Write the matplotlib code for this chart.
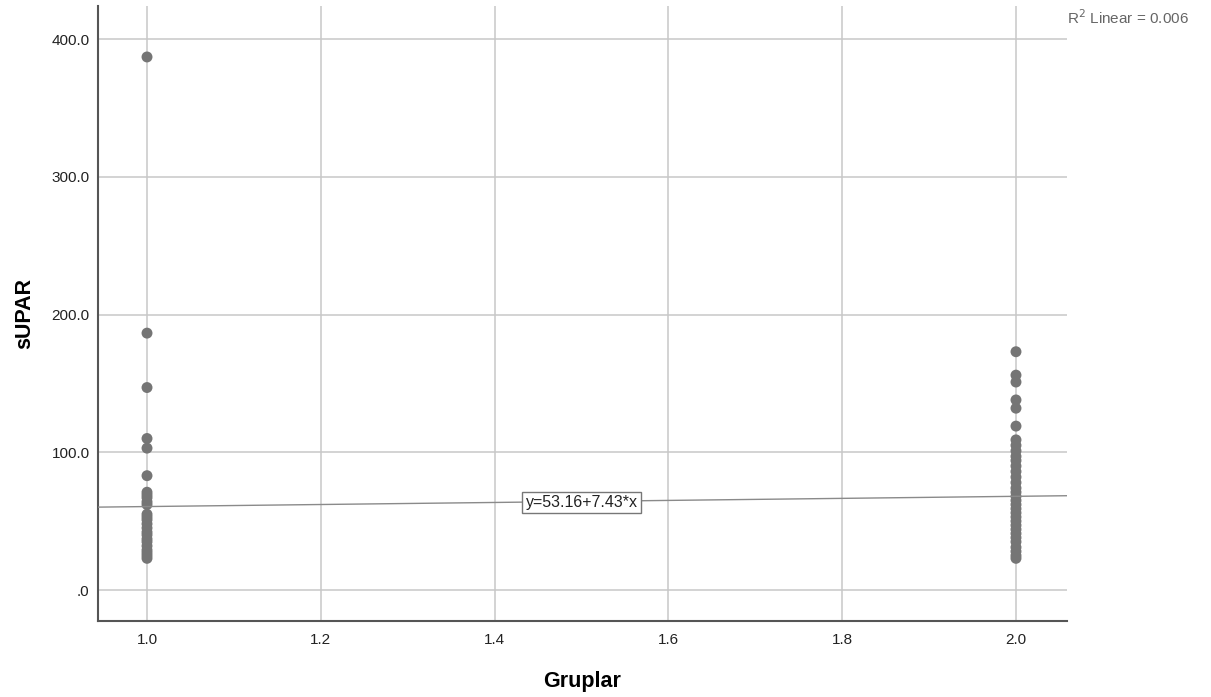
import matplotlib
matplotlib.use("Agg")
import matplotlib.pyplot as plt
import numpy as np

plt.rcParams['font.family'] = ['Liberation Sans', 'DejaVu Sans']

# sUPAR measurements per group
group1_x = 1.0
group1_supar = [387, 186.5, 147, 110, 103, 83, 71, 69, 67, 64, 62, 55, 53, 51,
                48, 45, 42, 40, 37, 35, 32, 29, 27, 25, 23]
group2_x = 2.0
group2_supar = [173, 156, 151, 138, 132, 119, 109, 105, 101, 97, 94, 90, 86, 82,
                78, 74, 71, 68, 65, 62, 59, 56, 53, 50, 47, 44, 41, 38, 35, 31,
                28, 25, 23]

# Linear fit
intercept = 53.16
slope = 7.43
r_squared = 0.006

x_ticks = [1.0, 1.2, 1.4, 1.6, 1.8, 2.0]
y_ticks = [0, 100, 200, 300, 400]
y_tick_labels = [".0", "100.0", "200.0", "300.0", "400.0"]

fig = plt.figure(figsize=(12.11, 6.97), dpi=100)
ax = fig.add_axes([98 / 1211, 76 / 697, (1067 - 98) / 1211, (621 - 6) / 697])

xlim = (0.9436, 2.0587)
ylim = (-22.5, 424.0)
ax.set_xlim(*xlim)
ax.set_ylim(*ylim)

ax.set_axisbelow(True)
ax.grid(True, color='#c8c8c8', linewidth=1.1)

xs = np.concatenate([np.full(len(group1_supar), group1_x),
                     np.full(len(group2_supar), group2_x)])
ys = np.concatenate([group1_supar, group2_supar])
ax.scatter(xs, ys, s=62, color='#757575', edgecolors='none', zorder=3)

# Regression line across the full x range
lx = np.array(xlim)
ax.plot(lx, intercept + slope * lx, color='#8a8a8a', linewidth=1.0, zorder=4)

ax.text(1.5, intercept + slope * 1.5 - 0.8, f"y={intercept:.2f}+{slope:.2f}*x",
        ha='center', va='center', fontsize=11.5, color='#222222', zorder=5,
        bbox=dict(boxstyle='square,pad=0.2', facecolor='white',
                  edgecolor='#777777', linewidth=1.0))

fig.text(1067 / 1211, 1 - 18 / 697, f"R$^2$ Linear = {r_squared:.3f}",
         ha='left', va='center', fontsize=11, color='#666666')

ax.set_xticks(x_ticks)
ax.set_xticklabels([f"{v:.1f}" for v in x_ticks])
ax.set_yticks(y_ticks)
ax.set_yticklabels(y_tick_labels)
ax.tick_params(axis='both', length=0, labelsize=11, colors='#222222')
ax.tick_params(axis='x', pad=9)
ax.tick_params(axis='y', pad=6)

for side in ('top', 'right'):
    ax.spines[side].set_visible(False)
for side in ('left', 'bottom'):
    ax.spines[side].set_color('#555555')
    ax.spines[side].set_linewidth(1.5)

ax.set_xlabel("Gruplar", fontsize=15.5, fontweight='bold', labelpad=17)
ax.set_ylabel("sUPAR", fontsize=15.5, fontweight='bold', labelpad=12)

fig.savefig("out.png", dpi=100)
